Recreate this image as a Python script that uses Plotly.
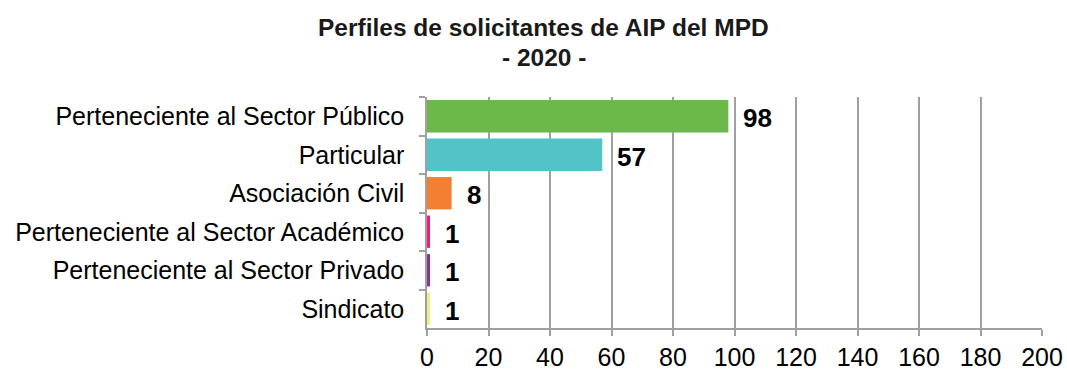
import plotly.graph_objects as go

categories = [
    "Perteneciente al Sector Público",
    "Particular",
    "Asociación Civil",
    "Perteneciente al Sector Académico",
    "Perteneciente al Sector Privado",
    "Sindicato",
]
values = [98, 57, 8, 1, 1, 1]
colors = ["#6CB84A", "#52C3C7", "#F37F32", "#E8237A", "#7B3A96", "#F2EB8A"]
x_ticks = list(range(0, 201, 20))
title_lines = ["Perfiles de solicitantes de AIP del MPD", "- 2020 -"]

FONT = "Liberation Sans, Arial, sans-serif"

fig = go.Figure()
fig.add_trace(go.Bar(
    y=categories,
    x=values,
    orientation="h",
    marker=dict(color=colors, line=dict(width=0)),
    width=0.84,
    hoverinfo="x+y",
))

# value labels to the right of each bar
for cat, val in zip(categories, values):
    fig.add_annotation(
        x=val, y=cat, text=f"<b>{val}</b>", showarrow=False,
        xanchor="left", xshift=13, yshift=-2,
        font=dict(family=FONT, size=26, color="#000000"),
    )

# two-line heading above the plot area
for line, ypos in zip(title_lines, [1.303, 1.173]):
    fig.add_annotation(
        x=0.19, y=ypos, xref="paper", yref="paper",
        text=f"<b>{line}</b>", showarrow=False,
        xanchor="center", yanchor="middle",
        font=dict(family=FONT, size=24.5, color="#1a1a1a"),
    )

fig.update_layout(
    width=1067, height=371,
    margin=dict(l=427, r=25, t=97, b=43),
    paper_bgcolor="white", plot_bgcolor="white",
    showlegend=False,
    font=dict(family=FONT, size=25, color="#000000"),
)

fig.update_xaxes(
    range=[0, 200], tickvals=x_ticks, ticktext=[str(t) for t in x_ticks],
    showgrid=True, gridcolor="#A0A0A0", gridwidth=1.5,
    showline=True, linecolor="#A0A0A0", linewidth=1.5,
    ticks="outside", ticklen=6, tickcolor="#A0A0A0", tickwidth=1.5,
    zeroline=False, fixedrange=True, automargin=False,
    tickfont=dict(size=25),
)
fig.update_yaxes(
    autorange="reversed", showgrid=False,
    showline=True, linecolor="#A0A0A0", linewidth=1.5,
    ticks="outside", ticklen=6, tickcolor="#A0A0A0", tickwidth=1.5,
    tickson="boundaries", ticklabelstandoff=16, automargin=False,
    tickfont=dict(size=25), fixedrange=True,
)

fig.write_html("out.html")
